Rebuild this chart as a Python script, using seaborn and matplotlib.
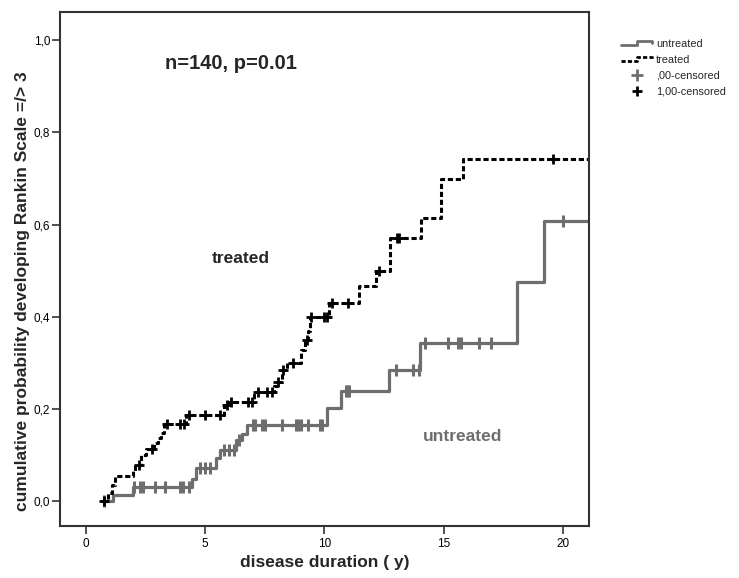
import numpy as np
import pandas as pd
import matplotlib
matplotlib.use("Agg")
import matplotlib.pyplot as plt
from matplotlib.lines import Line2D
from matplotlib.legend_handler import HandlerBase
import seaborn as sns

# step points (time, cumulative probability after the step)
treated_t = [0.65, 0.9, 1.1, 1.2, 1.95, 2.05, 2.3, 2.5, 2.85, 3.0, 3.15, 3.25, 4.2,
             5.8, 5.95, 7.05, 7.9, 8.0, 8.2, 8.45, 9.0, 9.2, 9.3, 9.4, 10.2, 11.45,
             12.15, 12.75, 14.05, 14.9, 15.8, 21.1]
treated_p = [0.0, 0.018, 0.035, 0.054, 0.066, 0.078, 0.10, 0.114, 0.125, 0.137, 0.147, 0.168, 0.187,
             0.208, 0.215, 0.237, 0.25, 0.259, 0.284, 0.30, 0.327, 0.349, 0.37, 0.40, 0.43, 0.466,
             0.499, 0.571, 0.614, 0.70, 0.743, 0.743]
treated_cens = [0.75, 2.2, 2.75, 3.4, 3.95, 4.1, 4.3, 5.0, 5.6, 5.9, 6.1, 6.8, 6.95,
                7.2, 7.6, 7.8, 8.05, 8.25, 8.7, 9.25, 9.45, 10.0, 10.1, 10.3, 11.0,
                12.3, 13.05, 13.15, 19.6]

untreated_t = [0.65, 1.15, 1.95, 4.45, 4.6, 5.45, 5.6, 6.3, 6.55, 6.75, 10.1, 10.7,
               12.7, 14.0, 18.1, 19.2, 21.1]
untreated_p = [0.0, 0.013, 0.031, 0.049, 0.071, 0.093, 0.11, 0.132, 0.145, 0.165, 0.201, 0.239,
               0.284, 0.344, 0.476, 0.608, 0.608]
untreated_cens = [0.75, 2.0, 2.27, 2.4, 2.9, 3.3, 3.95, 4.05, 4.3, 4.8, 5.0, 5.2, 5.8, 6.0,
                  6.2, 6.4, 7.0, 7.1, 7.4, 7.5, 8.2, 8.8, 8.9, 9.0, 9.3, 9.8, 9.9, 10.9,
                  10.97, 11.05, 13.0, 13.7, 13.95, 14.2, 15.2, 15.6, 15.75, 16.5, 17.0, 20.0]

x_ticks = [0, 5, 10, 15, 20]
y_ticks = [0, 0.2, 0.4, 0.6, 0.8, 1.0]

GREY = "#6e6e6e"


def at_curve(times, probs, cens):
    # value of the step curve at each censoring time
    idx = np.searchsorted(times, cens, side="right") - 1
    return np.asarray(probs)[idx]


sns.set_style("white")
plt.rcParams["font.family"] = ["Liberation Sans", "DejaVu Sans"]

fig = plt.figure(figsize=(7.39, 5.78), dpi=100)
ax = fig.add_axes([0.081, 0.09, 0.716, 0.889])

sns.lineplot(x=untreated_t, y=untreated_p, ax=ax, color=GREY, lw=2.3,
             drawstyle="steps-post", estimator=None, sort=False)
sns.lineplot(x=treated_t, y=treated_p, ax=ax, color="black", lw=2.2,
             drawstyle="steps-post", estimator=None, sort=False,
             linestyle=(0, (1.7, 0.9)))

sns.scatterplot(x=untreated_cens, y=at_curve(untreated_t, untreated_p, untreated_cens),
                ax=ax, marker="|", s=70, color=GREY, linewidth=2.2, zorder=3)
sns.scatterplot(x=treated_cens, y=at_curve(treated_t, treated_p, treated_cens),
                ax=ax, marker="+", s=55, color="black", linewidth=2.0, zorder=4)

ax.set_xlim(-1.1, 21.1)
ax.set_ylim(-0.054, 1.061)
ax.set_xticks(x_ticks)
ax.set_yticks(y_ticks)
ax.set_yticklabels([f"{v:.1f}".replace(".", ",") for v in y_ticks])
ax.tick_params(axis="both", direction="out", length=6, width=1.2, colors="#333333",
               labelsize=8.5, labelcolor="black", left=True, bottom=True, pad=3)
ax.tick_params(axis="y", pad=1)
for sp in ax.spines.values():
    sp.set_color("#333333")
    sp.set_linewidth(1.5)

ax.set_xlabel("disease duration ( y)", fontsize=12.5, fontweight="bold", labelpad=3)
ax.set_ylabel("cumulative probability developing Rankin Scale =/> 3", fontsize=12.5,
              fontweight="bold")
ax.yaxis.set_label_coords(-0.057, 0.457)

ax.text(3.3, 0.95, "n=140, p=0.01", fontsize=14.5, fontweight="bold", va="center")
ax.text(6.5, 0.527, "treated", fontsize=12.5, fontweight="bold", ha="center", va="center")
ax.text(15.8, 0.141, "untreated", fontsize=12.5, fontweight="bold", ha="center",
        va="center", color=GREY)


class StepHandler(HandlerBase):
    def __init__(self, ls, color, lw):
        super().__init__()
        self.ls, self.color, self.lw = ls, color, lw

    def create_artists(self, legend, orig_handle, xdescent, ydescent, width, height,
                       fontsize, trans):
        xs = [0, width * 0.5, width * 0.5, width, width]
        ys = [height * 0.2, height * 0.2, height * 0.85, height * 0.85, height * 0.5]
        ln = Line2D([x - xdescent for x in xs], [y - ydescent for y in ys],
                    color=self.color, lw=self.lw, linestyle=self.ls, transform=trans)
        return [ln]


h_un = Line2D([], [], color=GREY)
h_tr = Line2D([], [], color="black")
h_c0 = Line2D([], [], marker="+", color=GREY, ls="", ms=8, mew=2)
h_c1 = Line2D([], [], marker="+", color="black", ls="", ms=7, mew=2)
fig.legend([h_un, h_tr, h_c0, h_c1],
           ["untreated", "treated", ",00-censored", "1,00-censored"],
           handler_map={h_un: StepHandler("-", GREY, 2.0),
                        h_tr: StepHandler((0, (1.5, 0.8)), "black", 2.0)},
           loc="upper left", bbox_to_anchor=(0.835, 0.94), frameon=False,
           fontsize=7.8, handlelength=2.8, labelspacing=0.55, handletextpad=0.4,
           borderaxespad=0)

fig.savefig("out.png", dpi=100)
